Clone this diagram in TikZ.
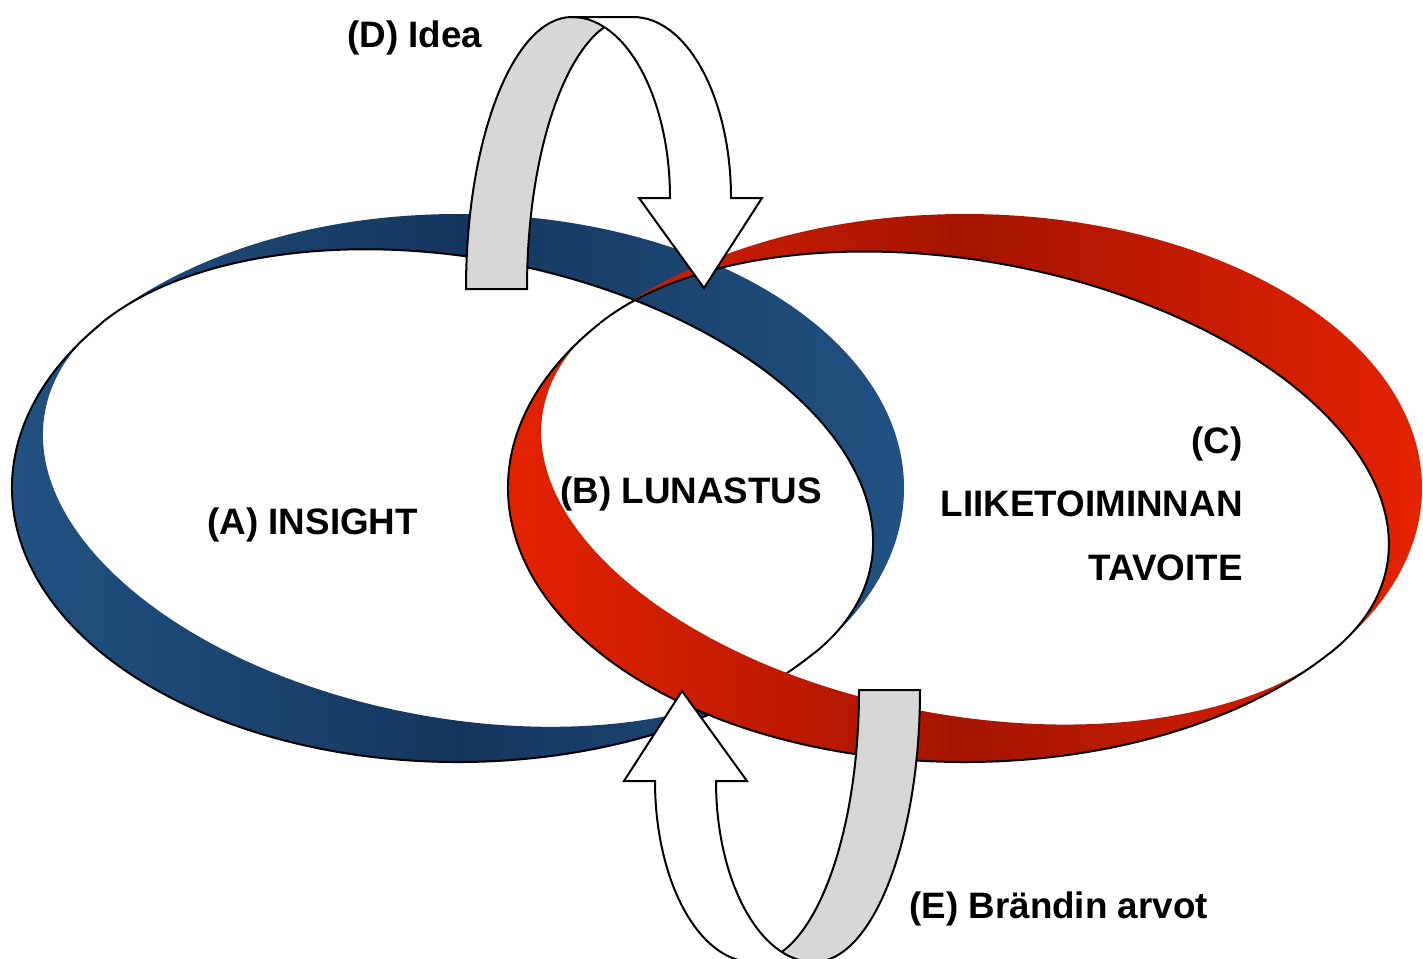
\documentclass[tikz,border=0pt]{standalone}
\usepackage{fontspec}
\setmainfont{Liberation Sans}
\definecolor{blueDark}{RGB}{20,54,94}
\definecolor{blueLight}{RGB}{33,82,130}
\definecolor{redDark}{RGB}{164,20,0}
\definecolor{redLight}{RGB}{228,34,0}
\definecolor{backGray}{RGB}{215,215,215}

\begin{document}
\begin{tikzpicture}[x=0.5pt,y=0.5pt,yscale=-1,xscale=1,
  lbl/.style={font=\bfseries\fontsize{18.4}{22}\selectfont},
  rim/.style={draw=black, line width=1pt},
  backband/.style={fill=backGray, draw=black, line width=1pt, line join=miter},
  frontband/.style={fill=white, draw=black, line width=1pt, line join=miter}]

\useasboundingbox (0,0) rectangle (1423,958);

%Shape: Ring [blue]
\shade[even odd rule, left color=blueLight, right color=blueLight, middle color=blueDark]
  (458,488) ellipse [x radius=446, y radius=274]
  (458,488) ellipse [x radius=420, y radius=230, rotate=10.5];
\draw[rim] ([shift={(37:446 and 274)}]458,488) arc [start angle=37, end angle=217, x radius=446, y radius=274];
\begin{scope}[shift={(458,488)}, rotate=10.5]
\draw[rim] (25:420 and 230) arc [start angle=25, end angle=-155, x radius=420, y radius=230];
\end{scope}

%Shape: Ring [red]
\shade[even odd rule, left color=redLight, right color=redLight, middle color=redDark]
  (965,488) ellipse [x radius=457, y radius=274]
  (965,488) ellipse [x radius=429, y radius=227, rotate=10.5];
\draw[rim] ([shift={(37:457 and 274)}]965,488) arc [start angle=37, end angle=217, x radius=457, y radius=274];
\begin{scope}[shift={(965,488)}, rotate=10.5]
\draw[rim] (25:429 and 227) arc [start angle=25, end angle=-155, x radius=429, y radius=227];
\end{scope}

%Shape: U-turn arrow [top]
\draw[backband] (466,289) arc [start angle=180, end angle=270, x radius=106, y radius=272]
  -- (633,17) arc [start angle=270, end angle=180, x radius=106, y radius=272] -- cycle;
\draw[frontband] (572,17) -- (633,17) arc [start angle=270, end angle=360, x radius=98, y radius=181]
  -- (762,198) -- (704,288) -- (639,198) -- (670,198)
  arc [start angle=0, end angle=-90, x radius=98, y radius=181] -- cycle;

%Shape: U-turn arrow [bottom]
\begin{scope}[rotate around={180:(693,489.5)}]
\draw[backband] (466,289) arc [start angle=180, end angle=270, x radius=106, y radius=272]
  -- (633,17) arc [start angle=270, end angle=180, x radius=106, y radius=272] -- cycle;
\draw[frontband] (572,17) -- (633,17) arc [start angle=270, end angle=360, x radius=98, y radius=181]
  -- (762,198) -- (704,288) -- (639,198) -- (670,198)
  arc [start angle=0, end angle=-90, x radius=98, y radius=181] -- cycle;
\end{scope}

% Text Node
\draw (347,47) node (ideaD) [anchor=base west][inner sep=0pt] [lbl] {(D) Idea};
% Text Node
\draw (207,534) node (insightA) [anchor=base west][inner sep=0pt] [lbl] {(A) INSIGHT};
% Text Node
\draw (560,503) node (lunastusB) [anchor=base west][inner sep=0pt] [lbl] {(B) LUNASTUS};
% Text Node
\draw (1243,453) node (goalC) [anchor=base east][inner sep=0pt] [lbl] {(C)};
% Text Node
\draw (1243,516) node (goalLine) [anchor=base east][inner sep=0pt] [lbl] {LIIKETOIMINNAN};
% Text Node
\draw (1243,580) node (goalWord) [anchor=base east][inner sep=0pt] [lbl] {TAVOITE};
% Text Node
\draw (909,918) node (valuesE) [anchor=base west][inner sep=0pt] [lbl] {(E) Brändin arvot};

\end{tikzpicture}
\end{document}
